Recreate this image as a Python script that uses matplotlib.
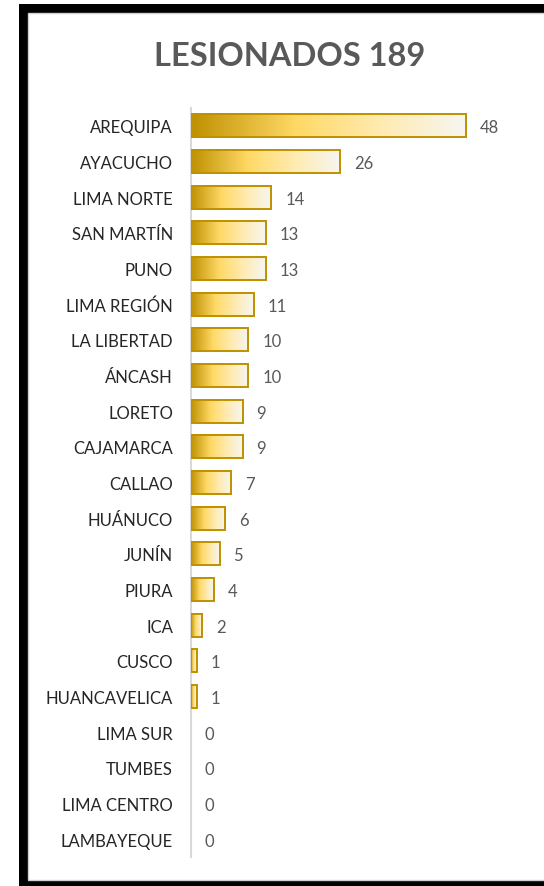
import numpy as np
import matplotlib
matplotlib.use("Agg")
import matplotlib.pyplot as plt
from matplotlib.colors import LinearSegmentedColormap
from matplotlib.patches import Rectangle

# data
regiones = ["AREQUIPA", "AYACUCHO", "LIMA NORTE", "SAN MARTÍN", "PUNO",
            "LIMA REGIÓN", "LA LIBERTAD", "ÁNCASH", "LORETO", "CAJAMARCA",
            "CALLAO", "HUÁNUCO", "JUNÍN", "PIURA", "ICA", "CUSCO",
            "HUANCAVELICA", "LIMA SUR", "TUMBES", "LIMA CENTRO", "LAMBAYEQUE"]
lesionados = [48, 26, 14, 13, 13, 11, 10, 10, 9, 9, 7, 6, 5, 4, 2, 1, 1, 0, 0, 0, 0]
titulo = "LESIONADOS 189"

plt.rcParams['font.family'] = ['Lato', 'DejaVu Sans']

W, H = 544, 887
fig = plt.figure(figsize=(W / 100, H / 100), dpi=100, facecolor='white')

# black frame with white inner panel (behind the axes)
fig.patches.append(Rectangle((19 / W, 0), 1, 1 - 5 / H, transform=fig.transFigure,
                             facecolor='black', edgecolor='none', zorder=-2))
fig.patches.append(Rectangle((28 / W, 6 / H), 1, 1 - 20 / H, transform=fig.transFigure,
                             facecolor='white', edgecolor='#d0d0d0', lw=1, zorder=-1))

ax = fig.add_axes([191 / W, 1 - 858 / H, (520 - 191) / W, (858 - 109) / H])
ax.set_facecolor('none')

oro = LinearSegmentedColormap.from_list(
    'oro', [(0, '#BF9000'), (0.38, '#FFD966'), (0.7, '#FFEBB3'), (1, '#F6F6F2')])
grad = np.linspace(0, 1, 256).reshape(1, -1)

n = len(regiones)
ypos = np.arange(n)
alto = 0.65
con_valor = [(y, v) for y, v in zip(ypos, lesionados) if v > 0]
for y, v in con_valor:
    ax.imshow(grad, extent=(0, v, y + alto / 2, y - alto / 2), aspect='auto',
              cmap=oro, zorder=2, interpolation='bilinear')
ax.barh([y for y, v in con_valor], [v for y, v in con_valor], height=alto,
        facecolor='none', edgecolor='#BF9000', lw=1.4, zorder=3)

for y, v in zip(ypos, lesionados):
    ax.annotate(str(v), (v, y), xytext=(10, -1), textcoords='offset points',
                va='center', ha='left', fontsize=12, color='#595959')

ax.set_xlim(0, 57.4)
ax.set_ylim(n - 0.5, -0.5)
ax.set_yticks(ypos)
ax.set_yticklabels(regiones, fontsize=12, color='#262626')
ax.set_xticks([])
ax.tick_params(axis='y', length=0, pad=13)
for s in ('top', 'right', 'bottom'):
    ax.spines[s].set_visible(False)
ax.spines['left'].set_color('#d9d9d9')
ax.spines['left'].set_linewidth(1.5)

fig.text(290 / W, 1 - 56 / H, titulo, ha='center', va='center', fontsize=23.5,
         fontweight='bold', color='#595959')

fig.savefig('out.png', dpi=100, facecolor='white')
